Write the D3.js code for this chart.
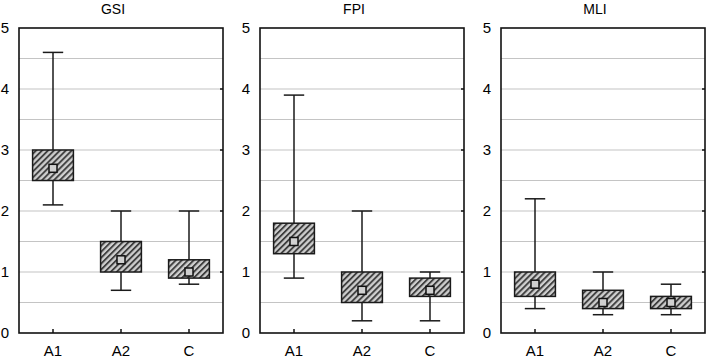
<!DOCTYPE html>
<html>
<head>
<meta charset="utf-8">
<script src="https://cdn.jsdelivr.net/npm/d3@7"></script>
<style>
  body { margin: 0; background: #fff; }
  text { font-family: "Liberation Sans", Arial, sans-serif; fill: #000; }
</style>
</head>
<body>
<div id="chart"></div>
<script>
// panel titles and groups
const panels = ['GSI', 'FPI', 'MLI'];
const groups = ['A1', 'A2', 'C'];
const yTicks = [0, 1, 2, 3, 4, 5];

// per panel, per group: [whisker low, box low, median, box high, whisker high]
const gsi = [[2.1, 2.5, 2.7, 3.0, 4.6], [0.7, 1.0, 1.2, 1.5, 2.0], [0.8, 0.9, 1.0, 1.2, 2.0]];
const fpi = [[0.9, 1.3, 1.5, 1.8, 3.9], [0.2, 0.5, 0.7, 1.0, 2.0], [0.2, 0.6, 0.7, 0.9, 1.0]];
const mli = [[0.4, 0.6, 0.8, 1.0, 2.2], [0.3, 0.4, 0.5, 0.7, 1.0], [0.3, 0.4, 0.5, 0.6, 0.8]];
const panelData = [gsi, fpi, mli];

const W = 709, H = 358;
const svg = d3.select('#chart').append('svg')
  .attr('width', W).attr('height', H);

// hatch pattern for the boxes
const defs = svg.append('defs');
const pat = defs.append('pattern')
  .attr('id', 'hatch')
  .attr('patternUnits', 'userSpaceOnUse')
  .attr('width', 4.2).attr('height', 4.2)
  .attr('patternTransform', 'rotate(45)');
pat.append('rect').attr('width', 4.2).attr('height', 4.2).attr('fill', '#cfcfcf');
pat.append('rect').attr('width', 1.9).attr('height', 4.2).attr('fill', '#404040');

const panelLeft = [19, 260, 501];
const panelW = 204;
const plotTop = 28, plotBottom = 333;

const y = d3.scaleLinear().domain([0, 5]).range([plotBottom, plotTop]);

panels.forEach((name, i) => {
  const g = svg.append('g').attr('transform', `translate(${panelLeft[i]},0)`);
  const x = d3.scaleBand().domain(groups).range([0, panelW]).padding(0);
  const cx = d => x(d) + x.bandwidth() / 2;
  const boxW = panelW * 0.2;

  // grid lines every 0.5
  g.selectAll('.grid')
    .data(d3.range(0.5, 5, 0.5))
    .enter().append('line')
    .attr('x1', 0).attr('x2', panelW)
    .attr('y1', d => y(d)).attr('y2', d => y(d))
    .attr('stroke', '#c4c4c4').attr('stroke-width', 1.2);

  // y axis
  const yAxis = g.append('g').call(d3.axisLeft(y).tickValues(yTicks)
    .tickFormat(d3.format('d')).tickSize(0).tickPadding(10));
  yAxis.select('.domain').remove();
  yAxis.selectAll('text').attr('font-size', 15).attr('fill', '#000');

  // small mirrored ticks on right edge
  g.selectAll('.rtick')
    .data(yTicks.slice(1, 5))
    .enter().append('line')
    .attr('x1', panelW - 3).attr('x2', panelW)
    .attr('y1', d => y(d)).attr('y2', d => y(d))
    .attr('stroke', '#111').attr('stroke-width', 1.5);

  // x axis, ticks pointing inward
  const xAxis = g.append('g').attr('transform', `translate(0,${plotBottom})`)
    .call(d3.axisBottom(x).tickSize(-4).tickPadding(12));
  xAxis.select('.domain').remove();
  xAxis.selectAll('line').attr('stroke', '#111').attr('stroke-width', 1.5);
  xAxis.selectAll('text').attr('font-size', 15).attr('fill', '#000');

  // title
  g.append('text')
    .attr('x', panelW / 2 - 8).attr('y', 14)
    .attr('text-anchor', 'middle')
    .attr('font-size', 14)
    .text(name);

  // boxes
  const data = panelData[i].map((v, k) => ({ group: groups[k], v }));
  const box = g.selectAll('.box').data(data).enter().append('g');

  box.append('line')
    .attr('x1', d => cx(d.group)).attr('x2', d => cx(d.group))
    .attr('y1', d => y(d.v[0])).attr('y2', d => y(d.v[4]))
    .attr('stroke', '#1a1a1a').attr('stroke-width', 1.5);
  [0, 4].forEach(idx => {
    box.append('line')
      .attr('x1', d => cx(d.group) - boxW / 4).attr('x2', d => cx(d.group) + boxW / 4)
      .attr('y1', d => y(d.v[idx])).attr('y2', d => y(d.v[idx]))
      .attr('stroke', '#1a1a1a').attr('stroke-width', 1.5);
  });
  box.append('rect')
    .attr('x', d => cx(d.group) - boxW / 2)
    .attr('y', d => y(d.v[3]))
    .attr('width', boxW)
    .attr('height', d => y(d.v[1]) - y(d.v[3]))
    .attr('fill', 'url(#hatch)')
    .attr('stroke', '#1a1a1a').attr('stroke-width', 1.5);
  box.append('rect')
    .attr('x', d => cx(d.group) - 4)
    .attr('y', d => y(d.v[2]) - 4)
    .attr('width', 8).attr('height', 8)
    .attr('fill', '#d0d0d0')
    .attr('stroke', '#111').attr('stroke-width', 1.5);

  // frame
  g.append('rect')
    .attr('x', 0).attr('y', plotTop)
    .attr('width', panelW).attr('height', plotBottom - plotTop)
    .attr('fill', 'none')
    .attr('stroke', '#111').attr('stroke-width', 1.6);
});
</script>
</body>
</html>
